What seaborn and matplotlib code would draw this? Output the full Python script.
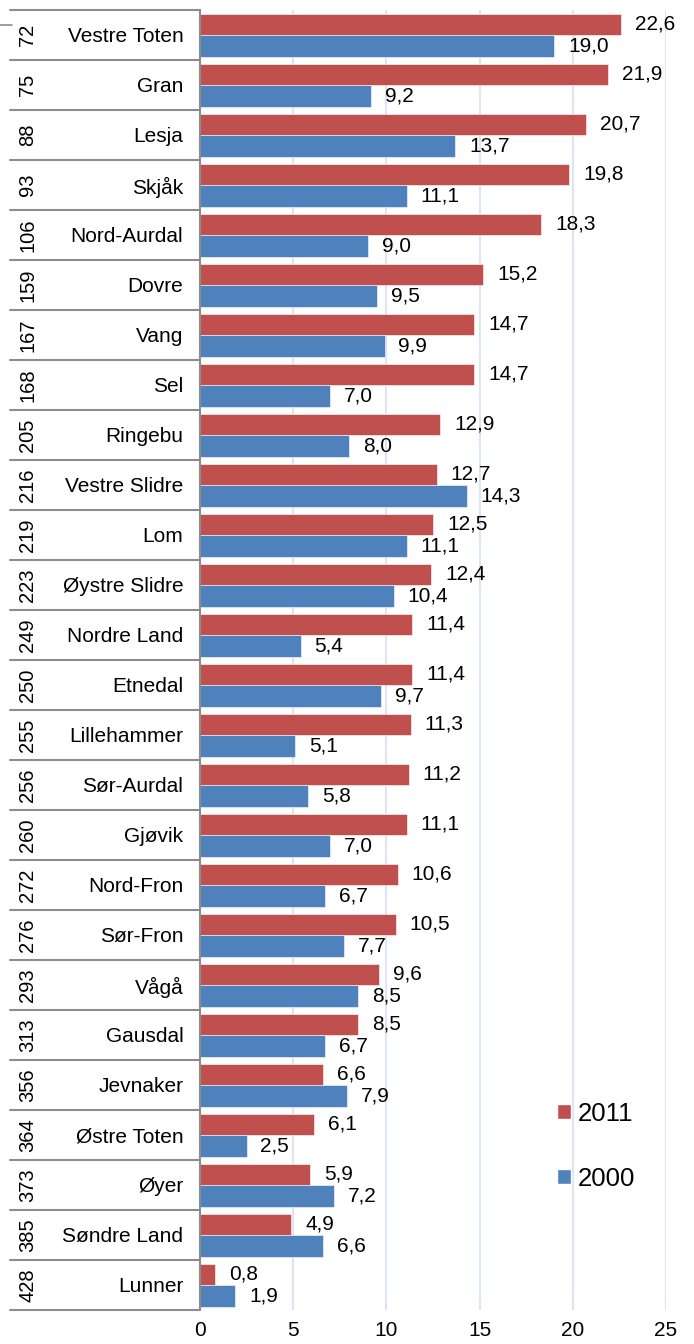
import pandas as pd
import matplotlib.pyplot as plt
import matplotlib.transforms as mtransforms
from matplotlib.patches import Patch
import seaborn as sns

# data
kommuner = ["Vestre Toten", "Gran", "Lesja", "Skjåk", "Nord-Aurdal", "Dovre", "Vang",
            "Sel", "Ringebu", "Vestre Slidre", "Lom", "Øystre Slidre", "Nordre Land",
            "Etnedal", "Lillehammer", "Sør-Aurdal", "Gjøvik", "Nord-Fron", "Sør-Fron",
            "Vågå", "Gausdal", "Jevnaker", "Østre Toten", "Øyer", "Søndre Land", "Lunner"]
rank = [72, 75, 88, 93, 106, 159, 167, 168, 205, 216, 219, 223, 249, 250, 255, 256,
        260, 272, 276, 293, 313, 356, 364, 373, 385, 428]
v2011 = [22.6, 21.9, 20.7, 19.8, 18.3, 15.2, 14.7, 14.7, 12.9, 12.7, 12.5, 12.4, 11.4,
         11.4, 11.3, 11.2, 11.1, 10.6, 10.5, 9.6, 8.5, 6.6, 6.1, 5.9, 4.9, 0.8]
v2000 = [19.0, 9.2, 13.7, 11.1, 9.0, 9.5, 9.9, 7.0, 8.0, 14.3, 11.1, 10.4, 5.4, 9.7,
         5.1, 5.8, 7.0, 6.7, 7.7, 8.5, 6.7, 7.9, 2.5, 7.2, 6.6, 1.9]
years = ["2011", "2000"]
colors = ["#C0504D", "#4F81BD"]

df = pd.DataFrame({"kommune": kommuner, "2011": v2011, "2000": v2000})
long = df.melt(id_vars="kommune", value_vars=years, var_name="year", value_name="value")

sns.set_style("white")
plt.rcParams["font.family"] = ["Liberation Sans", "DejaVu Sans"]
plt.rcParams["text.color"] = "black"
plt.rcParams["xtick.color"] = "black"
plt.rcParams["ytick.color"] = "black"

fs = 15

fig = plt.figure(figsize=(6.94, 13.44), dpi=100)
ax = fig.add_axes([200 / 694, 34 / 1344, 466 / 694, 1300 / 1344])

sns.barplot(data=long, y="kommune", x="value", hue="year", hue_order=years,
            palette=colors, saturation=1, orient="h", width=0.86, order=kommuner,
            ax=ax, edgecolor="white", linewidth=0.4, legend=False)

# value labels with comma decimals
for cont, vals in zip(ax.containers, [v2011, v2000]):
    ax.bar_label(cont, labels=[f"{v:.1f}".replace(".", ",") for v in vals],
                 padding=10, fontsize=fs, color="black")

ax.set_xlim(0, 25)
ax.set_ylim(len(kommuner) - 0.5, -0.5)
ax.set_xticks([0, 5, 10, 15, 20, 25])
ax.set_xticklabels(["0", "5", "10", "15", "20", "25"], fontsize=fs)
ax.tick_params(axis="x", length=0, pad=8)
ax.tick_params(axis="y", length=0, pad=12, labelsize=fs)
ax.set_xlabel("")
ax.set_ylabel("")

ax.xaxis.grid(True, color="#DCE6F2", lw=1.5)
ax.set_axisbelow(True)
for s in ["top", "right", "bottom"]:
    ax.spines[s].set_visible(False)
ax.spines["left"].set_color("#8C8C8C")
ax.spines["left"].set_linewidth(1.5)

# table-like separators and rank numbers on the left
trans = mtransforms.blended_transform_factory(ax.transAxes, ax.transData)
x_left = (10 - 200) / 466
for k in range(len(kommuner) + 1):
    ax.plot([x_left, 0], [k - 0.5, k - 0.5], transform=trans, color="#8C8C8C",
            lw=1.5, clip_on=False)
for k, r in enumerate(rank):
    ax.text((28 - 200) / 466, k, str(r), transform=trans, rotation=90,
            ha="center", va="center", fontsize=14.5)
ax.plot([-200 / 466, -188 / 466], [-0.2, -0.2], transform=trans, color="#8C8C8C",
        lw=1.2, clip_on=False)

handles = [Patch(facecolor=c, label=y) for c, y in zip(colors, years)]
ax.legend(handles=handles, loc="center left", bbox_to_anchor=(357 / 466, 0.126),
          frameon=False, fontsize=18.5, handlelength=0.55, handleheight=0.55,
          handletextpad=0.25, labelspacing=1.6, borderpad=0, borderaxespad=0)

fig.savefig("out.png", dpi=100)
